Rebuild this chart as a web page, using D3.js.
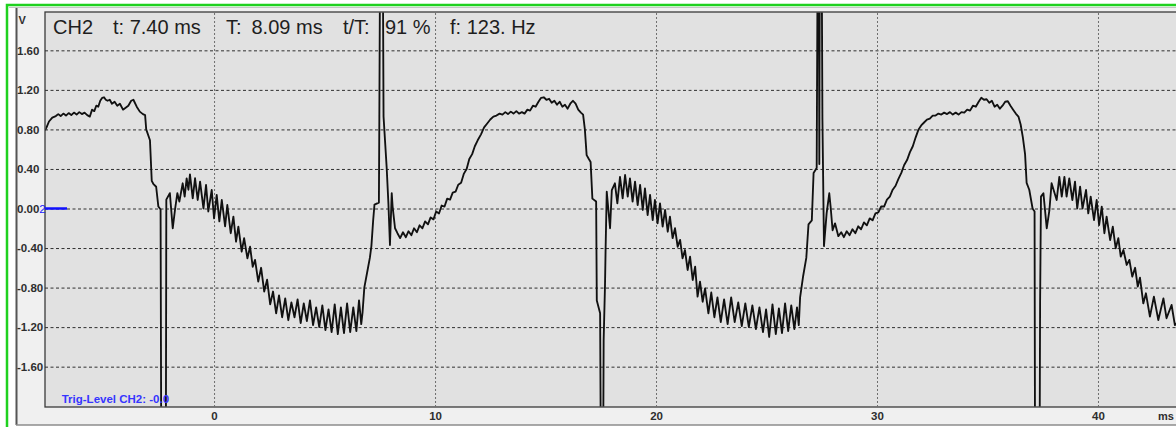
<!DOCTYPE html>
<html>
<head>
<meta charset="utf-8">
<script src="https://cdn.jsdelivr.net/npm/d3@7"></script>
<style>
body { margin: 0; background: #fff; overflow: hidden; }
svg { display: block; font-family: Arial, "Liberation Sans", sans-serif; }
</style>
</head>
<body>
<div id="scope"></div>
<script>

// axis ticks
var voltTicks = [1.6, 1.2, 0.8, 0.4, 0, -0.4, -0.8, -1.2, -1.6];
var timeTicks = [0, 10, 20, 30, 40];
var timeUnit = "ms";
var voltUnit = "V";

// readout line at the top of the screen
var readouts = ["CH2", "t: 7.40 ms", "T:", "8.09 ms", "t/T:", "91 %", "f: 123. Hz"];
var trigLabel = "Trig-Level CH2: -0.0";
var channelMark = "2";

// CH2 trace, [ms, V]; +-2.4 is off screen (clipped)
var sweep1 = [
  [-7.65,0.79],[-7.58,0.82],[-7.47,0.88],[-7.32,0.92],[-7.16,0.935],[-7.05,0.955],[-6.94,0.935],
  [-6.82,0.96],[-6.70,0.94],[-6.58,0.965],[-6.46,0.945],[-6.34,0.97],[-6.22,0.95],[-6.10,0.975],
  [-5.98,0.955],[-5.86,0.97],[-5.74,0.945],[-5.62,0.93],[-5.52,1.0],[-5.42,0.985],[-5.33,1.04],
  [-5.24,1.03],[-5.15,1.09],[-5.06,1.12],[-4.98,1.125],[-4.90,1.10],[-4.82,1.09],[-4.72,1.10],
  [-4.62,1.06],[-4.50,1.08],[-4.38,1.04],[-4.26,1.06],[-4.12,1.0],[-4.0,1.02],[-3.88,1.04],
  [-3.75,1.09],[-3.65,1.10],[-3.50,1.03],[-3.36,0.98],[-3.22,0.955],[-3.12,0.945],[-3.07,0.80],
  [-2.90,0.69],[-2.82,0.28],[-2.75,0.25],[-2.62,0.22],[-2.52,0.02],[-2.42,-0.01],[-2.39,-2.4],
  [-2.18,-2.4],[-2.16,0.09],[-2.0,0.155],[-1.87,-0.20],[-1.76,0.0],[-1.66,0.155],[-1.57,0.07],
  [-1.42,0.255],[-1.33,0.12],[-1.24,0.305],[-1.16,0.19],[-1.09,0.345],[-0.965,0.103],[-0.86,0.306],
  [-0.74,0.086],[-0.633,0.272],[-0.48,0.0],[-0.362,0.238],[-0.26,-0.03],[-0.105,0.187],[0.0,-0.10],
  [0.12,0.137],[0.24,-0.13],[0.35,0.086],[0.50,-0.18],[0.60,0.035],[0.755,-0.25],[0.875,-0.083],
  [0.995,-0.336],[1.10,-0.184],[1.25,-0.437],[1.36,-0.30],[1.51,-0.505],[1.63,-0.387],[1.75,-0.59],
  [1.855,-0.52],[2.0,-0.74],[2.13,-0.60],[2.27,-0.84],[2.40,-0.72],[2.54,-0.97],[2.67,-0.84],
  [2.81,-1.06],[2.94,-0.88],[3.08,-1.10],[3.22,-0.91],[3.36,-1.13],[3.50,-0.95],[3.64,-1.10],
  [3.78,-0.92],[3.92,-1.16],[4.06,-0.96],[4.20,-1.14],[4.34,-0.93],[4.48,-1.18],[4.62,-1.0],
  [4.76,-1.20],[4.90,-0.98],[5.04,-1.23],[5.18,-1.02],[5.32,-1.25],[5.46,-0.97],[5.60,-1.27],
  [5.74,-1.0],[5.88,-1.26],[6.02,-0.96],[6.16,-1.25],[6.30,-1.0],[6.44,-1.24],[6.56,-0.93],
  [6.66,-1.17],[6.72,-1.05],[6.80,-0.80],[6.95,-0.62],[7.05,-0.50],[7.12,-0.38],[7.20,-0.12],
  [7.26,0.04]
];

var sweep2 = [
  [7.46,0.06],[7.48,0.93],[7.51,2.4],[7.64,2.4],[7.67,0.93],[7.81,0.42],[7.89,0.05],[7.96,-0.37],
  [8.04,0.155],[8.08,0.02],[8.19,-0.20],[8.30,-0.25],[8.42,-0.30],[8.55,-0.24],[8.68,-0.29],
  [8.80,-0.23],[8.93,-0.27],[9.05,-0.20],[9.18,-0.24],[9.30,-0.17],[9.43,-0.20],[9.55,-0.13],
  [9.68,-0.16],[9.80,-0.09],[9.93,-0.11],[10.05,-0.03],[10.18,-0.05],[10.30,0.03],[10.43,0.02],
  [10.55,0.10],[10.68,0.09],[10.80,0.16],[10.93,0.17],[11.05,0.24],[11.18,0.26],[11.30,0.35],
  [11.43,0.40],[11.55,0.50],[11.68,0.55],[11.80,0.63],[11.93,0.69],[12.08,0.75],[12.22,0.82],
  [12.36,0.86],[12.50,0.90],[12.64,0.93],[12.78,0.94],[12.92,0.96],[13.05,0.95],[13.18,0.975],
  [13.30,0.955],[13.43,0.98],[13.55,0.96],[13.68,0.985],[13.80,0.96],[13.93,0.975],[14.05,0.96],
  [14.18,1.0],[14.30,0.99],[14.43,1.04],[14.55,1.03],[14.68,1.08],[14.80,1.12],[14.92,1.125],
  [15.04,1.10],[15.16,1.11],[15.28,1.07],[15.40,1.09],[15.52,1.05],[15.64,1.08],[15.76,1.03],
  [15.88,1.05],[16.0,1.01],[16.12,1.06],[16.24,1.09],[16.36,1.06],[16.48,1.0],[16.60,0.97],
  [16.70,0.95],[16.78,0.80],[16.86,0.54],[16.96,0.50],[17.04,0.47],[17.12,0.10],[17.29,0.07],
  [17.32,-0.93],[17.47,-1.06],[17.50,-2.4],[17.61,-2.4],[17.63,-1.33],[17.69,-0.79],[17.72,-0.39],
  [17.77,0.17],[17.92,-0.20],[18.0,0.187],[18.14,0.255],[18.25,0.052],[18.37,0.32],[18.49,0.103],
  [18.60,0.339],[18.72,0.12],[18.82,0.305],[18.94,0.069],[19.05,0.272],[19.17,0.035],[19.28,0.238],
  [19.40,-0.015],[19.50,0.204],[19.62,-0.066],[19.73,0.137],[19.85,-0.117],[19.95,0.086],
  [20.07,-0.15],[20.18,0.052],[20.30,-0.184],[20.41,-0.015],[20.53,-0.235],[20.63,-0.083],
  [20.75,-0.30],[20.86,-0.20],[20.98,-0.387],[21.09,-0.318],[21.20,-0.504],[21.31,-0.42],
  [21.43,-0.622],[21.54,-0.487],[21.66,-0.723],[21.77,-0.588],[21.88,-0.892],[21.99,-0.74],
  [22.11,-0.943],[22.22,-0.808],[22.37,-1.06],[22.50,-0.85],[22.64,-1.10],[22.78,-0.90],
  [22.93,-1.15],[23.08,-0.92],[23.24,-1.17],[23.40,-0.90],[23.56,-1.15],[23.72,-0.95],
  [23.88,-1.19],[24.04,-0.96],[24.20,-1.20],[24.36,-0.98],[24.52,-1.22],[24.68,-1.0],
  [24.84,-1.25],[24.98,-1.02],[25.12,-1.30],[25.27,-0.97],[25.42,-1.27],[25.56,-1.01],
  [25.70,-1.26],[25.84,-0.96],[25.98,-1.24],[26.12,-0.98],[26.26,-1.22],[26.38,-1.0],
  [26.46,-1.18],[26.52,-0.90],[26.66,-0.68],[26.80,-0.50],[26.90,-0.16],[27.05,-0.12],
  [27.13,0.36],[27.27,0.41]
];

var sweep3 = [
  [27.31,2.4],[27.37,2.4],[27.39,0.45],[27.41,2.4],[27.50,2.4],[27.53,0.90],[27.60,-0.38],
  [27.72,-0.05],[27.84,0.154],[27.90,0.02],[27.99,-0.22],[28.10,-0.15],[28.25,-0.28],[28.38,-0.24],
  [28.50,-0.29],[28.63,-0.23],[28.76,-0.27],[28.89,-0.21],[29.02,-0.25],[29.15,-0.18],[29.28,-0.21],
  [29.41,-0.14],[29.54,-0.17],[29.67,-0.10],[29.80,-0.12],[29.93,-0.05],[30.06,-0.04],[30.19,0.02],
  [30.32,0.02],[30.45,0.09],[30.58,0.12],[30.71,0.19],[30.84,0.23],[30.97,0.30],[31.10,0.36],
  [31.23,0.44],[31.36,0.49],[31.49,0.57],[31.62,0.63],[31.75,0.72],[31.88,0.80],[32.0,0.84],
  [32.13,0.87],[32.26,0.90],[32.39,0.91],[32.52,0.94],[32.65,0.94],[32.78,0.96],[32.91,0.95],
  [33.04,0.97],[33.17,0.955],[33.30,0.975],[33.43,0.95],[33.56,0.97],[33.69,0.95],[33.82,0.975],
  [33.95,0.97],[34.08,1.0],[34.21,0.99],[34.34,1.04],[34.47,1.03],[34.60,1.08],[34.72,1.12],
  [34.84,1.10],[34.96,1.105],[35.08,1.07],[35.20,1.09],[35.32,1.03],[35.44,1.05],[35.56,1.01],
  [35.68,1.04],[35.80,1.08],[35.92,1.085],[36.04,1.04],[36.16,1.0],[36.28,0.96],[36.40,0.93],
  [36.50,0.85],[36.60,0.72],[36.70,0.55],[36.77,0.26],[36.89,0.19],[37.04,0.0],[37.13,-0.03],
  [37.15,-2.4],[37.36,-2.4],[37.38,-0.96],[37.42,0.12],[37.53,0.155],[37.68,-0.20],[37.80,-0.02],
  [37.90,0.255],[38.13,0.086],[38.25,0.32],[38.36,0.12],[38.48,0.32],[38.58,0.12],[38.70,0.305],
  [38.84,0.086],[38.96,0.272],[39.06,0.0],[39.19,0.221],[39.30,0.0],[39.46,0.187],[39.56,-0.05],
  [39.67,0.12],[39.82,-0.117],[39.94,0.086],[40.05,-0.167],[40.17,0.019],[40.29,-0.25],
  [40.39,-0.083],[40.55,-0.32],[40.67,-0.184],[40.80,-0.403],[40.92,-0.30],[41.03,-0.487],
  [41.15,-0.42],[41.30,-0.571],[41.42,-0.52],[41.55,-0.689],[41.68,-0.60],[41.80,-0.79],
  [41.90,-0.70],[42.05,-0.96],[42.17,-0.858],[42.35,-1.094],[42.53,-0.892],[42.73,-1.128],
  [42.96,-0.909],[43.10,-1.11],[43.33,-0.976],[43.48,-1.18],[43.60,-1.15]
];

var W = 1176, H = 427;
var plot = { left: 45, top: 12, right: 1176, bottom: 407 };

var svg = d3.select("#scope")
    .append("svg")
    .attr("width", W)
    .attr("height", H);

svg.append("rect").attr("width", W).attr("height", H).attr("fill", "#fff");

// green window frame
svg.append("rect")
    .attr("x", 7).attr("y", 5)
    .attr("width", W + 20).attr("height", H + 20)
    .attr("fill", "none")
    .attr("stroke", "#1fd11f")
    .attr("stroke-width", 2.5);
svg.append("line")
    .attr("x1", 9).attr("x2", W).attr("y1", 7.5).attr("y2", 7.5)
    .attr("stroke", "#c4c4c4");

// scope panel
svg.append("rect")
    .attr("x", 16).attr("y", 8)
    .attr("width", W).attr("height", 417)
    .attr("fill", "#f0f0f0");
svg.append("line")
    .attr("x1", 16.5).attr("x2", 16.5).attr("y1", 8).attr("y2", 425)
    .attr("stroke", "#555").attr("stroke-width", 2);
svg.append("line")
    .attr("x1", 16).attr("x2", W).attr("y1", 425).attr("y2", 425)
    .attr("stroke", "#8c8c8c").attr("stroke-width", 1.5);

svg.append("rect")
    .attr("x", plot.left).attr("y", plot.top)
    .attr("width", plot.right - plot.left + 10).attr("height", plot.bottom - plot.top)
    .attr("fill", "#e1e1e1")
    .attr("stroke", "#3a3a3a")
    .attr("stroke-width", 1.3);

var x = d3.scaleLinear().domain([-7.65, 43.53]).range([plot.left, plot.right]);
var y = d3.scaleLinear().domain([-2, 2]).range([406.2, 10.8]);

// grid
svg.append("g")
    .attr("class", "hgrid")
    .attr("transform", "translate(" + plot.left + ",0)")
    .call(d3.axisLeft(y).tickValues(voltTicks).tickSize(-(plot.right - plot.left)).tickFormat(""))
    .call(function (g) { g.select(".domain").remove(); })
    .selectAll("line")
    .attr("stroke", "#303030")
    .attr("stroke-dasharray", "3,2.5");

svg.append("g")
    .attr("class", "vgrid")
    .attr("transform", "translate(0," + plot.bottom + ")")
    .call(d3.axisBottom(x).tickValues(timeTicks).tickSize(-(plot.bottom - plot.top)).tickFormat(""))
    .call(function (g) { g.select(".domain").remove(); })
    .selectAll("line")
    .attr("stroke", "#6e6e6e")
    .attr("stroke-dasharray", "2,2");

// axis labels
var yAxis = svg.append("g")
    .attr("transform", "translate(" + plot.left + ",0)")
    .call(d3.axisLeft(y).tickValues(voltTicks).tickSize(0)
        .tickFormat(function (d) { return d.toFixed(2); }));
yAxis.select(".domain").remove();
yAxis.selectAll("text")
    .attr("x", -28)
    .attr("dy", "0.33em")
    .attr("text-anchor", "start")
    .attr("font-family", "Arial, 'Liberation Sans', sans-serif")
    .attr("font-size", "11.5px")
    .attr("font-weight", "bold")
    .attr("fill", "#2e2e2e");

var xAxis = svg.append("g")
    .attr("transform", "translate(0," + plot.bottom + ")")
    .call(d3.axisBottom(x).tickValues(timeTicks).tickSize(0));
xAxis.select(".domain").remove();
xAxis.selectAll("text")
    .attr("y", 13)
    .attr("dy", null)
    .attr("font-family", "Arial, 'Liberation Sans', sans-serif")
    .attr("font-size", "11.5px")
    .attr("font-weight", "bold")
    .attr("fill", "#2e2e2e");

svg.append("text")
    .attr("x", 1158).attr("y", 420)
    .attr("font-size", "11px").attr("font-weight", "bold").attr("fill", "#2e2e2e")
    .text(timeUnit);
svg.append("text")
    .attr("x", 18.5).attr("y", 24)
    .attr("font-size", "11px").attr("font-weight", "bold").attr("fill", "#2e2e2e")
    .text(voltUnit);

// trace
svg.append("clipPath").attr("id", "plotclip")
    .append("rect")
    .attr("x", plot.left + 0.5).attr("y", plot.top + 0.5)
    .attr("width", plot.right - plot.left).attr("height", plot.bottom - plot.top - 1);

var line = d3.line()
    .x(function (d) { return x(d[0]); })
    .y(function (d) { return y(d[1]); });

svg.append("path")
    .datum(sweep1.concat(sweep2, sweep3))
    .attr("clip-path", "url(#plotclip)")
    .attr("fill", "none")
    .attr("stroke", "#111")
    .attr("stroke-width", 1.85)
    .attr("stroke-linejoin", "round")
    .attr("d", line);

// channel marker
svg.append("line")
    .attr("x1", plot.left).attr("x2", plot.left + 22)
    .attr("y1", y(0)).attr("y2", y(0))
    .attr("stroke", "#1010ff").attr("stroke-width", 2.5);
svg.append("text")
    .attr("x", 39.3).attr("y", y(0) + 4)
    .attr("font-size", "11.5px").attr("fill", "#2020ff")
    .text(channelMark);

svg.append("text")
    .attr("x", 61.7).attr("y", 402.7)
    .attr("font-size", "11.5px").attr("font-weight", "bold").attr("fill", "#3535ff")
    .text(trigLabel);

// readouts
var readoutX = [53, 113, 226, 251.5, 343, 385, 450];
svg.append("g")
    .selectAll("text")
    .data(readouts)
    .enter()
    .append("text")
    .attr("x", function (d, i) { return readoutX[i]; })
    .attr("y", 34)
    .attr("font-size", "20px")
    .attr("fill", "#1e1e1e")
    .text(function (d) { return d; });

</script>
</body>
</html>
